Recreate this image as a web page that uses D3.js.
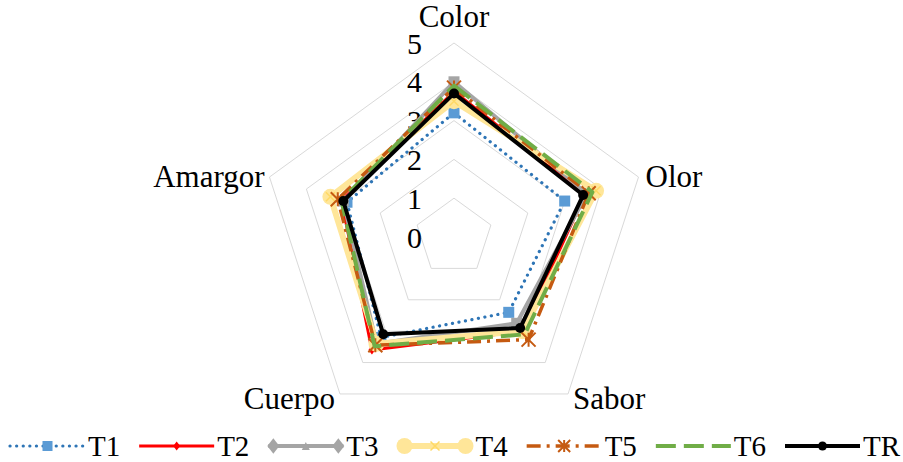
<!DOCTYPE html>
<html>
<head>
<meta charset="utf-8">
<script src="https://cdn.jsdelivr.net/npm/d3@7/dist/d3.min.js"></script>
<style>
  html, body { margin: 0; padding: 0; background: #fff; }
  svg { display: block; font-family: "Liberation Serif", "Times New Roman", serif; }
</style>
</head>
<body>
<svg id="chart" width="903" height="462"></svg>
<script>
// Sensory attributes (radar axes), clockwise from the top
const attributes = ["Color", "Olor", "Sabor", "Cuerpo", "Amargor"];
const ticks = [0, 1, 2, 3, 4, 5];
const seriesNames = ["T1", "T2", "T3", "T4", "T5", "T6", "TR"];

// Mean scores per treatment, in the order of `attributes`
const T1 = [3.2, 3.0, 2.4, 3.2, 2.9];
const T2 = [3.75, 3.55, 3.0, 3.6, 3.05];
const T3 = [4.0, 3.6, 2.75, 3.4, 3.0];
const T4 = [3.5, 3.85, 3.0, 3.4, 3.35];
const T5 = [3.85, 3.65, 3.27, 3.45, 3.15];
const T6 = [3.9, 3.75, 3.1, 3.48, 3.05];
const TR = [3.7, 3.5, 2.9, 3.1, 3.0];

const seriesValues = [T1, T2, T3, T4, T5, T6, TR];

// Line / marker styling for each treatment
const styles = {
  T1: { stroke: "#2e75b6", width: 3.2, dash: "0.1 6.5", cap: "round", marker: "square", fill: "#5b9bd5", size: 11 },
  T2: { stroke: "#ff0000", width: 3, dash: null, cap: "butt", marker: "diamond", fill: "#ff0000", size: 7 },
  T3: { stroke: "#a5a5a5", width: 4, dash: null, cap: "butt", marker: "square", fill: "#a5a5a5", size: 11 },
  T4: { stroke: "#ffe699", width: 6, dash: null, cap: "butt", marker: "circle", fill: "#ffe699", size: 16 },
  T5: { stroke: "#c55a11", width: 3.5, dash: "14 6 3 6", cap: "butt", marker: "asterisk", fill: "#c55a11", size: 14 },
  T6: { stroke: "#70ad47", width: 4, dash: "20 8", cap: "butt", marker: null, fill: "#70ad47", size: 0 },
  TR: { stroke: "#000000", width: 4, dash: null, cap: "butt", marker: "circle", fill: "#000000", size: 10 }
};

const svg = d3.select("#chart");
const cx = 454, cy = 237;
const r = d3.scaleLinear().domain([0, 5]).range([0, 194]);
const angle = d3.scalePoint().domain(attributes).range([0, 2 * Math.PI * 4 / 5]);

function pt(attr, v) {
  const a = angle(attr) - Math.PI / 2;
  return [cx + r(v) * Math.cos(a), cy + r(v) * Math.sin(a)];
}

// Grid pentagons at each unit step
const grid = svg.append("g");
ticks.filter(t => t > 0).forEach(t => {
  grid.append("path")
    .attr("d", d3.line()(attributes.map(a => pt(a, t))) + "Z")
    .attr("fill", "none")
    .attr("stroke", "#d9d9d9")
    .attr("stroke-width", 1);
});

// Value labels along the top axis
svg.append("g").selectAll("text")
  .data(ticks)
  .join("text")
  .attr("x", cx - 32)
  .attr("y", d => cy - r(d))
  .attr("dy", "0.35em")
  .attr("text-anchor", "end")
  .attr("font-size", 30)
  .attr("fill", "#000")
  .text(d => d);

// Attribute labels around the outer ring
const labelPos = {
  Color:   { dx: 0,  dy: -16, anchor: "middle" },
  Olor:    { dx: 7,  dy: 10,  anchor: "start" },
  Sabor:   { dx: 5,  dy: 15,  anchor: "start" },
  Cuerpo:  { dx: -5, dy: 15,  anchor: "end" },
  Amargor: { dx: -5, dy: 10,  anchor: "end" }
};
svg.append("g").selectAll("text")
  .data(attributes)
  .join("text")
  .attr("x", d => pt(d, 5)[0] + labelPos[d].dx)
  .attr("y", d => pt(d, 5)[1] + labelPos[d].dy)
  .attr("text-anchor", d => labelPos[d].anchor)
  .attr("font-size", 31)
  .attr("fill", "#000")
  .text(d => d);

function drawMarker(g, type, x, y, st) {
  const s = st.size;
  if (type === "square") {
    g.append("rect").attr("x", x - s / 2).attr("y", y - s / 2).attr("width", s).attr("height", s).attr("fill", st.fill);
  } else if (type === "diamond") {
    g.append("path").attr("d", `M${x},${y - s / 2 * 1.3}L${x + s / 2},${y}L${x},${y + s / 2 * 1.3}L${x - s / 2},${y}Z`).attr("fill", st.fill);
  } else if (type === "circle") {
    g.append("circle").attr("cx", x).attr("cy", y).attr("r", s / 2).attr("fill", st.fill);
  } else if (type === "triangle") {
    g.append("path").attr("d", `M${x},${y - s / 2}L${x + s / 2},${y + s / 2}L${x - s / 2},${y + s / 2}Z`).attr("fill", st.fill);
  } else if (type === "asterisk") {
    const h = s / 2;
    g.append("path")
      .attr("d", `M${x - h},${y - h}L${x + h},${y + h}M${x + h},${y - h}L${x - h},${y + h}M${x},${y - h}L${x},${y + h}`)
      .attr("stroke", st.fill).attr("stroke-width", 2).attr("fill", "none");
  } else if (type === "cross") {
    const h = s / 2;
    g.append("path")
      .attr("d", `M${x - h},${y - h}L${x + h},${y + h}M${x + h},${y - h}L${x - h},${y + h}`)
      .attr("stroke", st.fill).attr("stroke-width", 1.5).attr("fill", "none");
  }
}

// Series polygons
const plot = svg.append("g");
seriesNames.forEach((name, i) => {
  const st = styles[name];
  const vals = seriesValues[i];
  const pts = attributes.map((a, j) => pt(a, vals[j]));
  const g = plot.append("g");
  g.append("path")
    .attr("d", d3.line()(pts) + "Z")
    .attr("fill", "none")
    .attr("stroke", st.stroke)
    .attr("stroke-width", st.width)
    .attr("stroke-linecap", st.cap)
    .attr("stroke-linejoin", "round")
    .attr("stroke-dasharray", st.dash);
  if (st.marker) pts.forEach(p => drawMarker(g, st.marker, p[0], p[1], st));
  if (name === "T4") pts.forEach(p => drawMarker(g, "cross", p[0], p[1], { fill: "#ffd966", size: 9 }));
  if (name === "T3") pts.forEach(p => drawMarker(g, "triangle", p[0], p[1], { fill: "#a5a5a5", size: 8 }));
});

// Legend
const legend = svg.append("g");
const legX = d3.scalePoint().domain(seriesNames).range([10, 785]);
const legY = 446;
seriesNames.forEach(name => {
  const st = styles[name];
  const x0 = legX(name);
  const g = legend.append("g");
  g.append("line")
    .attr("x1", x0).attr("x2", x0 + 75).attr("y1", legY).attr("y2", legY)
    .attr("stroke", st.stroke).attr("stroke-width", st.width)
    .attr("stroke-linecap", st.cap)
    .attr("stroke-dasharray", st.dash);
  const mx = x0 + 37.5;
  if (name === "T1") drawMarker(g, "square", mx, legY, { fill: st.fill, size: 10 });
  if (name === "T2") drawMarker(g, "diamond", mx, legY, { fill: st.fill, size: 7 });
  if (name === "T3") {
    drawMarker(g, "diamond", x0 + 5, legY, { fill: st.fill, size: 12 });
    drawMarker(g, "diamond", x0 + 70, legY, { fill: st.fill, size: 12 });
    drawMarker(g, "triangle", mx, legY, { fill: st.fill, size: 8 });
  }
  if (name === "T4") {
    drawMarker(g, "circle", x0 + 7, legY, { fill: st.fill, size: 16 });
    drawMarker(g, "circle", x0 + 68, legY, { fill: st.fill, size: 16 });
    drawMarker(g, "cross", mx, legY, { fill: "#ffd966", size: 9 });
  }
  if (name === "T5") drawMarker(g, "asterisk", mx, legY, { fill: st.fill, size: 12 });
  if (name === "TR") drawMarker(g, "circle", mx, legY, { fill: st.fill, size: 9 });
  g.append("text")
    .attr("x", x0 + 78).attr("y", legY).attr("dy", "0.35em")
    .attr("font-size", 29).attr("fill", "#000")
    .text(name);
});
</script>
</body>
</html>
